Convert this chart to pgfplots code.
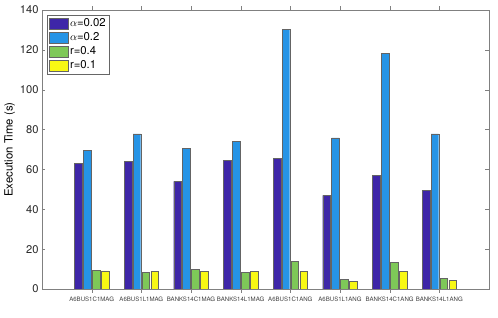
\documentclass[border=0pt]{standalone}
\usepackage{pgfplots}
\pgfplotsset{compat=1.18}
\usepackage{fontspec}
\setmainfont{TeX Gyre Heros}
\definecolor{c1}{RGB}{62,38,168}
\definecolor{c2}{RGB}{38,148,230}
\definecolor{c3}{RGB}{126,200,88}
\definecolor{c4}{RGB}{248,248,20}
\definecolor{axc}{RGB}{128,128,128}
\definecolor{edgec}{RGB}{100,100,100}
\begin{document}
\begin{tikzpicture}
\begin{axis}[
  scale only axis, width=447bp, height=279bp,
  at={(0,0)}, anchor=south west,
  xmin=0, xmax=9, ymin=0, ymax=140,
  xtick={1,...,8},
  xticklabels={A6BUS1C1MAG,A6BUS1L1MAG,BANKS14C1MAG,BANKS14L1MAG,A6BUS1C1ANG,A6BUS1L1ANG,BANKS14C1ANG,BANKS14L1ANG},
  x tick label style={font=\fontsize{6.1}{7}\selectfont, text=black!75, yshift=-1bp},
  ytick={0,20,...,140},
  y tick label style={font=\fontsize{11.2}{12}\selectfont, text=black!85},
  /pgf/number format/assume math mode=true,
  ylabel={Execution Time (s)},
  ylabel style={font=\fontsize{11.4}{13}\selectfont, yshift=-2bp},
  tick align=inside,
  major tick length=3.5bp,
  axis line style={axc},
  tick style={axc},
  ybar, bar width=0.155,
  legend style={at={(0.011,0.982)}, anchor=north west, font=\fontsize{11.4}{12}\selectfont, draw=black!60, inner sep=1.5pt, row sep=0.5pt, cells={anchor=west}},
  legend image code/.code={\draw[#1] (0bp,-5.5bp) rectangle (19bp,5.5bp);},
]
\addplot[fill=c1, draw=edgec, bar shift=-0.27] coordinates {(1,63.0) (2,64.2) (3,54.0) (4,64.7) (5,65.6) (6,47.0) (7,57.2) (8,49.5)};
\addplot[fill=c2, draw=edgec, bar shift=-0.09] coordinates {(1,69.4) (2,77.8) (3,70.7) (4,74.0) (5,130.4) (6,75.8) (7,118.2) (8,77.8)};
\addplot[fill=c3, draw=edgec, bar shift=0.09] coordinates {(1,9.4) (2,8.4) (3,9.9) (4,8.4) (5,13.8) (6,4.8) (7,13.4) (8,5.4)};
\addplot[fill=c4, draw=edgec, bar shift=0.27] coordinates {(1,9.1) (2,8.9) (3,8.8) (4,8.8) (5,8.7) (6,3.8) (7,8.8) (8,4.3)};
\legend{$\alpha$=0.02,$\alpha$=0.2,r=0.4,r=0.1}
\end{axis}
\pgfresetboundingbox
\path (-42bp,-29bp) rectangle (456bp,289bp);
\end{tikzpicture}
\end{document}
